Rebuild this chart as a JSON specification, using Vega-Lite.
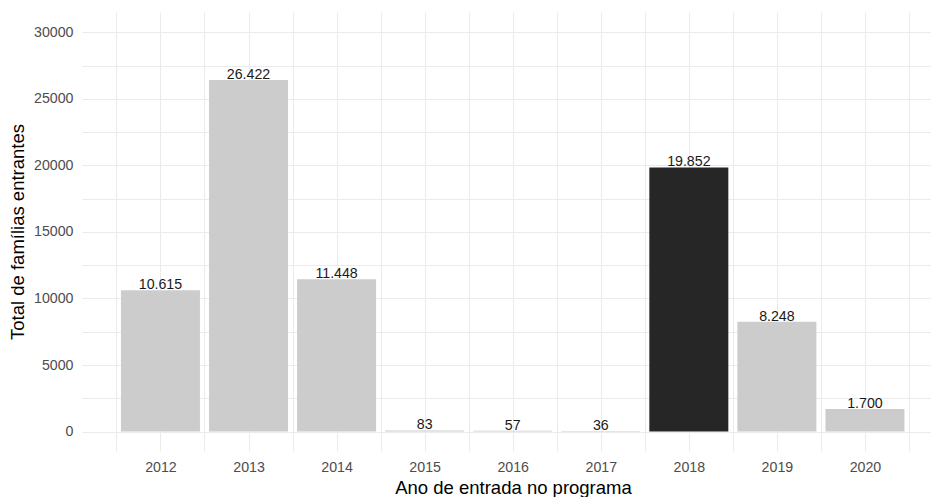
{
  "$schema": "https://vega.github.io/schema/vega-lite/v6.json",
  "autosize": "none",
  "width": 849,
  "height": 439,
  "padding": {"left": 82, "top": 12, "right": 0, "bottom": 46},
  "background": "white",
  "config": {
    "view": {"stroke": null},
    "font": "Liberation Sans",
    "locale": {"number": {"decimal": ",", "thousands": ".", "grouping": [3], "currency": ["R$", ""]}}
  },
  "data": {
    "values": [
      {"ano": 2012, "total": 10615},
      {"ano": 2013, "total": 26422},
      {"ano": 2014, "total": 11448},
      {"ano": 2015, "total": 83},
      {"ano": 2016, "total": 57},
      {"ano": 2017, "total": 36},
      {"ano": 2018, "total": 19852},
      {"ano": 2019, "total": 8248},
      {"ano": 2020, "total": 1700}
    ]
  },
  "encoding": {
    "x": {
      "field": "ano",
      "type": "quantitative",
      "scale": {"domain": [2011.109, 2020.75], "nice": false, "zero": false, "padding": 0},
      "axis": {
        "title": "Ano de entrada no programa",
        "values": [2011.5, 2012, 2012.5, 2013, 2013.5, 2014, 2014.5, 2015, 2015.5, 2016, 2016.5, 2017, 2017.5, 2018, 2018.5, 2019, 2019.5, 2020, 2020.5],
        "labelExpr": "datum.value % 1 === 0 ? format(datum.value, 'd') : ''",
        "ticks": false,
        "domain": false,
        "grid": true,
        "gridColor": "#EBEBEB",
        "gridWidth": 1,
        "labelFontSize": 14.2,
        "labelColor": "#4D4D4D",
        "labelPadding": 9,
        "titleFontSize": 18.5,
        "titleFontWeight": "normal",
        "titleColor": "#000000",
        "titlePadding": 4,
        "titleX": 431
      }
    },
    "y": {
      "field": "total",
      "type": "quantitative",
      "scale": {"domain": [-1466, 31541], "nice": false, "zero": false, "padding": 0},
      "axis": {
        "title": "Total de famílias entrantes",
        "values": [0, 2500, 5000, 7500, 10000, 12500, 15000, 17500, 20000, 22500, 25000, 27500, 30000],
        "labelExpr": "datum.value % 5000 === 0 ? format(datum.value, 'd') : ''",
        "ticks": false,
        "domain": false,
        "grid": true,
        "gridColor": "#EBEBEB",
        "gridWidth": 1,
        "labelFontSize": 14.2,
        "labelColor": "#4D4D4D",
        "labelPadding": 9,
        "titleFontSize": 18.5,
        "titleFontWeight": "normal",
        "titleColor": "#000000",
        "titlePadding": 6
      }
    }
  },
  "layer": [
    {
      "mark": {"type": "bar", "size": 79},
      "encoding": {
        "y2": {"datum": 0},
        "color": {
          "condition": {"test": "datum.ano === 2018", "value": "#262626"},
          "value": "#CCCCCC"
        }
      }
    },
    {
      "mark": {"type": "text", "baseline": "alphabetic", "dy": -1, "fontSize": 14.2, "color": "#1A1A1A"},
      "encoding": {
        "text": {"field": "total", "type": "quantitative", "format": ",d"}
      }
    }
  ]
}
